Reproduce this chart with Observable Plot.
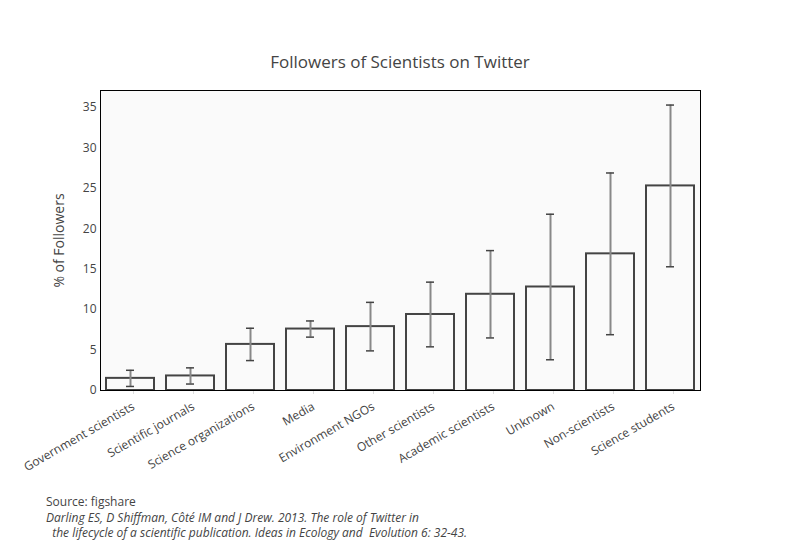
<!DOCTYPE html>
<html>
<head>
<meta charset="utf-8">
<script src="https://cdn.jsdelivr.net/npm/d3@7"></script>
<script src="https://cdn.jsdelivr.net/npm/@observablehq/plot@0.6"></script>
<style>
  body { margin: 0; background: #fff; font-family: "Open Sans", sans-serif; }
  #wrap { position: relative; width: 800px; height: 550px; overflow: hidden; }
  #title { position: absolute; left: 0; top: 50px; width: 800px; text-align: center; font-size: 17px; color: #444; }
  #chart { position: absolute; left: 0; top: 80px; }
  #caption { position: absolute; left: 46px; top: 494px; font-size: 12px; color: #444; line-height: 15.5px; white-space: pre; }
  #caption i { font-style: italic; }
</style>
</head>
<body>
<div id="wrap">
  <div id="title">Followers of Scientists on Twitter</div>
  <div id="chart"></div>
  <div id="caption">Source: figshare
<i>Darling ES, D Shiffman, Côté IM and J Drew. 2013. The role of Twitter in
  the lifecycle of a scientific publication. Ideas in Ecology and  Evolution 6: 32-43.</i></div>
</div>
<script>
const categories = ["Government scientists", "Scientific journals", "Science organizations", "Media", "Environment NGOs", "Other scientists", "Academic scientists", "Unknown", "Non-scientists", "Science students"];
const values = [1.5, 1.8, 5.7, 7.6, 7.9, 9.4, 11.9, 12.8, 16.9, 25.3];
const errors = [1.0, 1.0, 2.0, 1.0, 3.0, 4.0, 5.4, 9.0, 10.0, 10.0];
const yTicks = [0, 5, 10, 15, 20, 25, 30, 35];

const data = categories.map((c, i) => ({category: c, value: values[i], err: errors[i]}));

const chart = Plot.plot({
  width: 800,
  height: 410,
  marginTop: 10,
  marginBottom: 100,
  marginLeft: 100,
  marginRight: 100,
  style: {fontFamily: "Open Sans, sans-serif", fontSize: "12px", color: "#444", background: "transparent"},
  x: {domain: categories, paddingInner: 0.2, paddingOuter: 0.1},
  y: {domain: [0, 37.1]},
  marks: [
    Plot.frame({fill: "#fafafa", stroke: null}),
    Plot.barY(data, {x: "category", y: "value", fill: "#fafafa", stroke: "#444", strokeWidth: 2}),
    Plot.ruleX(data, {x: "category", y1: d => d.value - d.err, y2: d => d.value + d.err, stroke: "#888", strokeWidth: 2}),
    Plot.tickY(data, {x: "category", y: d => d.value + d.err, stroke: "#444", strokeWidth: 1.5, insetLeft: 20, insetRight: 20}),
    Plot.tickY(data, {x: "category", y: d => d.value - d.err, stroke: "#444", strokeWidth: 1.5, insetLeft: 20, insetRight: 20}),
    Plot.axisY({ticks: yTicks, tickSize: 0, tickPadding: 4, fontSize: 12, label: "% of Followers", labelAnchor: "center", labelArrow: "none", labelOffset: 46}),
    Plot.axisX({tickRotate: -30, tickSize: 4, stroke: "#ddd", tickPadding: 11, dx: 3, label: null, fontSize: 12}),
    Plot.frame({stroke: "#000", strokeWidth: 1})
  ]
});
document.getElementById("chart").appendChild(chart);
d3.select(chart).selectAll("[aria-label='y-axis label'] text").style("font-size", "14px");
d3.select(chart).selectAll("[aria-label='x-axis tick label'] text").attr("fill", "#444");
</script>
</body>
</html>
